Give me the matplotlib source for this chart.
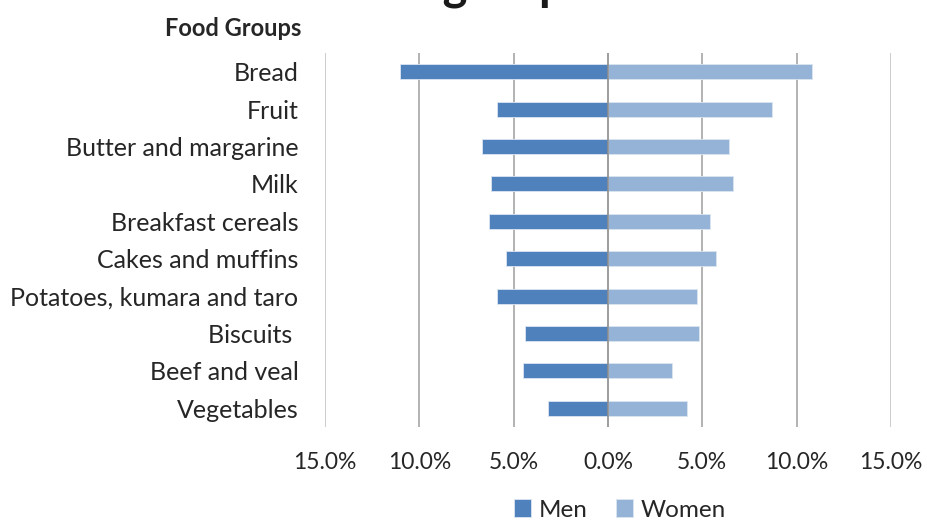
import numpy as np
import matplotlib
matplotlib.use("Agg")
import matplotlib.pyplot as plt

plt.rcParams['font.family'] = ['Lato', 'DejaVu Sans']

# data (percent of intake)
food_groups = ['Bread', 'Fruit', 'Butter and margarine', 'Milk', 'Breakfast cereals',
               'Cakes and muffins', 'Potatoes, kumara and taro', 'Biscuits ',
               'Beef and veal', 'Vegetables']
men = [11.0, 5.9, 6.7, 6.2, 6.3, 5.4, 5.9, 4.4, 4.5, 3.2]
women = [10.8, 8.7, 6.4, 6.6, 5.4, 5.7, 4.7, 4.8, 3.4, 4.2]
x_ticks = [-15, -10, -5, 0, 5, 10, 15]

men_col = '#4f81bd'
women_col = '#95b3d7'
txt_col = '#262626'

W, H = 927, 520
fig = plt.figure(figsize=(W / 100, H / 100), dpi=100)
ax = fig.add_axes([325 / W, 1 - 427 / H, 566 / W, 374 / H])

y = np.arange(len(food_groups))
ax.barh(y, [-v for v in men], height=0.4, color=men_col, edgecolor='#dce6f2',
        linewidth=0.6, label='Men', zorder=3)
ax.barh(y, women, height=0.4, color=women_col, edgecolor='#dce6f2',
        linewidth=0.6, label='Women', zorder=3)

ax.set_xlim(-15, 15)
ax.set_ylim(len(food_groups) - 0.5, -0.5)
ax.set_yticks(y)
ax.set_yticklabels(food_groups, fontsize=18, color=txt_col)
ax.set_xticks(x_ticks)
ax.set_xticklabels(['%.1f%%' % abs(t) for t in x_ticks], fontsize=16.5, color=txt_col)
ax.tick_params(axis='both', length=0)
ax.tick_params(axis='y', pad=19)
ax.tick_params(axis='x', pad=18)

for s in ax.spines.values():
    s.set_visible(False)
for t in x_ticks:
    if t == 0:
        ax.axvline(t, color='#8c8c8c', linewidth=1.2, zorder=4)
    elif abs(t) == 15:
        ax.axvline(t, color='#c4c4c4', linewidth=1.2, zorder=1)
    else:
        ax.axvline(t, color='#a6a6a6', linewidth=1.2, zorder=1)

fig.text(301 / W, 1 - 29 / H, 'Food Groups', ha='right', va='center',
         fontsize=17, fontweight='bold', color=txt_col)

# title, only the descenders show at the top edge of the picture
r = fig.canvas.get_renderer()
probe = fig.text(0, 0, 'Food ', fontsize=34, fontweight='bold')
pre_w = probe.get_window_extent(r).width
probe.remove()
fig.text((443 - pre_w) / W, 1.0, 'Food groups', ha='left', va='baseline',
         fontsize=34, fontweight='bold', color='#1a1a1a')

ax.legend(loc='center', bbox_to_anchor=(620 / W, 1 - 510 / H),
          bbox_transform=fig.transFigure, ncol=2, frameon=False, fontsize=17.5,
          handlelength=0.7, handleheight=0.7, handletextpad=0.3,
          columnspacing=1.2, labelcolor=txt_col)

fig.savefig('out.png', dpi=100)
